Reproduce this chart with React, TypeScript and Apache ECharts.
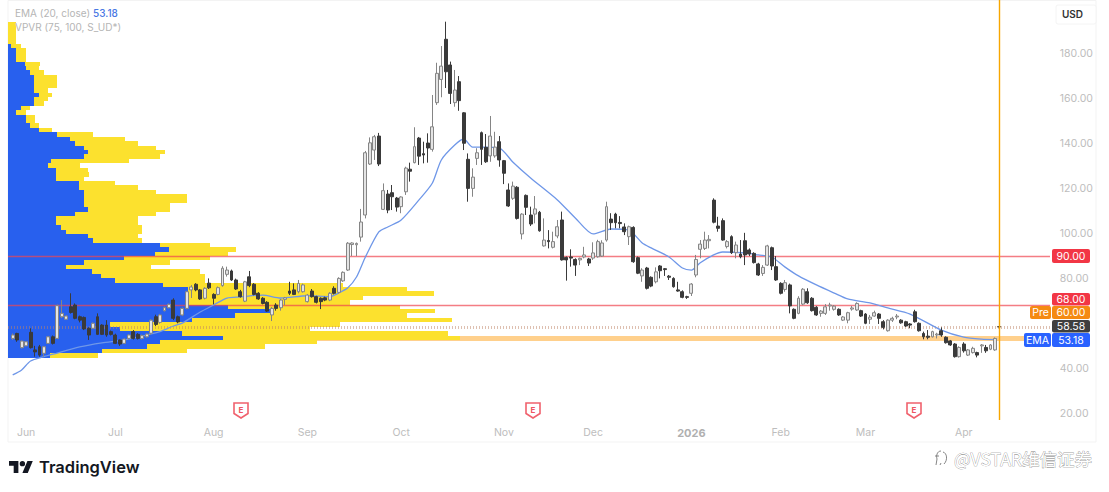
import React, { useEffect, useRef } from "react";
import * as echarts from "echarts";

type Candle = [number, number, number, number]; // open, close, low, high

const lateMay: Candle[] = [[53.5,55,52.8,55.7],[55.7,52.8,52,56],[49.4,52.3,49,52.6]];
const jun: Candle[] = [
  [50.2,52,50,52.3],[56.2,49.4,49,58],[48.4,47.5,45.4,50.2],[49.8,46.1,45.4,50.6],[46.9,49.8,45.4,50.2],
  [51.3,54.2,51,54.6],[54.2,51.3,50.8,54.8],[53.5,68,53.2,68.5],[63.1,64.6,62.5,70.5],[62,63.4,61.8,63.8],
  [67.5,65,64.5,73.5],[68.3,62.4,62,69],[63.1,61.6,60.6,63.6],[62.8,57.7,57.2,63.2],[58,55,52.8,58.4],
  [58,60.2,57.6,60.6],[63.1,55.3,55,64.6],[59.4,55.3,55,59.8],[59.4,55,54.2,61.6],[56.5,55.3,54.8,57],
];
const jul: Candle[] = [
  [55,51.3,51,55.6],[52.8,51,50.2,53],[51.3,53.2,51,53.6],[53.5,55,53,55.4],[56.5,53.5,53,57.2],
  [55.3,53.5,53,55.8],[53.5,54.7,53,55.2],[54.2,55.4,53.8,55.8],[55.8,61.6,55.2,62],[63.1,59.7,59,64],
  [60.6,63.9,60,64.4],[65.8,67.1,65.4,67.6],[67.1,68.6,66.8,69],[70.5,62.4,61.6,71.3],[63.1,60.8,60.2,63.6],
  [63.9,66.8,63.4,67.2],[66.8,74.2,66.4,74.6],[75,76.3,71.4,77.2],[77.5,75,74.4,78],[75,71,70.6,75.4],
  [71.3,75.7,70.8,76.2],[78,75.9,75.4,80.1],
];
const aug: Candle[] = [
  [73,71.3,68.6,73.5],[73,76,72.6,76.5],[76.9,84.6,76.4,85.5],[81.9,83.8,80.9,85.3],[83.4,79.4,79,84],
  [79.4,75.4,75,80],[74.2,72,71.6,75],[70,78.6,69.6,79],[80.8,76.9,76.2,83.4],[77.5,73,72.6,78],
  [73.5,71,70.6,74],[71.3,69,68.6,71.8],[69.5,65.6,65.2,70],[63.9,66.8,61.2,67.4],[68.3,66.8,65.8,69.1],
  [67.1,70.5,65.8,71],[70.8,71.5,68.3,71.9],[74.5,73.5,72.7,78.6],[75,73,72.7,77.9],[74.2,77.9,73.5,79.4],
  [74.2,77.2,73.8,77.8],
];
const sep: Candle[] = [
  [69.8,72.7,69.4,73.2],[74.5,72,71.6,75.4],[72,69.5,69,72.4],[71.3,69.8,66.5,71.7],[71.5,70.5,70,72],
  [70.5,73.5,70,74],[75.7,73.5,73,76.6],[73.9,80.1,73.4,80.6],[79,82.8,78.6,83.2],[83.8,95.7,83.4,96.2],
  [95.1,95.8,90,96.1],[95,95.6,90,96],[98.4,105.1,96.4,110.9],[108.2,135.8,106.7,136.6],[130.8,140.2,130.4,142.6],
  [137,142.9,132.6,143.7],[143.2,130.8,129.9,144.6],[110.7,119,110.4,122.2],[117.5,110.4,109,119.3],[118.1,116.3,110.4,121.5],
  [115.7,111.7,109.7,116.2],
];
const oct: Candle[] = [
  [111.9,116.2,109,116.5],[118.5,129,117.1,129.6],[128.5,127.6,123,131.4],[131.4,138.5,131.1,147.1],[142.3,134.3,130.4,142.8],
  [135.4,134.8,131.1,140.7],[140.1,137.9,131.4,144.4],[137.3,147.3,136.3,161.4],[158,171,157,175.7],[168.3,174.2,160.4,183.1],
  [186.1,171.7,164.5,193.9],[174.7,162.1,157.4,176.2],[158,163.6,156.2,172.5],[167.3,158.9,154.4,169.8],[153.5,140,137,153.8],
  [132.9,120,114.1,135.5],[120,125,116.3,128.9],[133.3,135.8,130.4,137.8],[144.7,137.3,130.4,145.2],[138.2,131.8,131.3,144.1],
  [134.4,143.2,131.8,152.1],[134.4,138.3,133.6,145.1],[140.7,132.6,129.6,143.2],
];
const nov: Candle[] = [
  [132.3,126.7,121.9,132.6],[119.3,112.2,111.8,122.2],[115.6,121,114.9,123],[120.5,106.7,106.2,121],[99.8,108.6,97.4,109],
  [116.9,111.6,108.2,117.3],[108.2,104.2,103.3,111.9],[108.6,110.9,104.5,116.6],[109.4,101.2,100.8,110],[94.5,97.1,94.2,106.7],
  [96.9,96.4,93.4,101.5],[93.9,96.4,93.4,100.8],[98.9,103,97.9,106],[106,88.3,88,109.7],[89.4,88.3,79.1,89.8],
  [89.6,89.1,85.3,93],[88.5,86,81.2,89],[88.3,89,86,89.3],[89.6,90.5,89,94.1],[88.7,86.9,85.6,89.2],
];
const dec: Candle[] = [
  [89.1,91.4,88.3,96.1],[89.7,96.4,89.3,97.2],[90,95.8,89.6,97],[97.1,111.9,96.4,114.1],[106.4,104.8,101.6,109],
  [108.6,104.8,102.3,109.2],[104.9,104.4,102.3,107.7],[102.9,100.8,99.3,104.5],[98.6,103,94.9,103.5],[102.7,87.5,87,103.2],
  [89.3,82.4,82,89.8],[81.2,83.8,78.6,84.6],[84.7,75.7,75.2,85.2],[80.6,76.7,76.2,81],[78.6,83,77.9,85],
  [85.6,83.5,80.1,86],[84.4,84,81.2,84.7],[81.1,80.6,79.4,81.6],[80.1,76.4,76,80.6],[75,74.5,74.2,78.6],
  [74.2,71.7,71.3,74.8],[72,71.7,71,72.4],
];
const jan: Candle[] = [
  [73.5,77.6,72.3,78],[81.6,88.5,80.6,90.5],[93,95.3,89,97.1],[93.4,97.1,92.7,100.8],[96.8,97.4,93.4,99.3],
  [114.8,105,104.5,115.6],[103.3,102.3,100.8,107.4],[105.7,97.1,96.8,106.7],[94.2,96.4,93.4,97.1],[98.6,91.5,90.9,99.2],
  [91.5,94.9,89,96.4],[90.9,89.7,89,97.1],[96.8,90.5,86,100.3],[92.7,90.9,90,93.4],[91.2,87.1,86.7,91.7],
  [86.5,81.6,81.2,87],[82.3,85,81.2,86],[86,94.5,85.6,95],[93.7,85.6,83.8,94.2],[85.3,79.4,79,90],
];
const feb: Candle[] = [
  [77.9,73.5,73,78.4],[75.2,78.2,74.2,79.4],[77.2,67.9,64.6,77.8],[66.4,62.4,62,66.8],[64.6,71.3,64.2,72.2],
  [68.7,75.3,68.2,75.8],[74.2,69.3,68.8,75.7],[71.3,65.8,65.4,71.8],[67.3,63.9,63.5,67.8],[64.6,65.6,63.1,66.1],
  [64.6,67.5,63.9,68.7],[67.9,68.3,65.8,69.3],[66.4,67.8,65.8,68.3],[66.4,63.9,63.5,66.8],[61.6,63,61.2,63.4],
  [61.6,64.9,60.2,65.3],[66.5,67,65.8,67.9],[66.1,69,65.7,69.5],[65.8,63.4,63,66.2],
];
const mar: Candle[] = [
  [64.3,60.2,59.8,64.7],[62,62.9,59.9,63.9],[63.4,64.9,63.1,65.8],[64.3,62.4,59.9,64.7],[60.9,58.4,57.5,61.6],
  [56.9,61.6,56.5,62],[61.6,62.4,60.8,63.1],[63,63.4,62,64.3],[61.6,60.4,60,62],[60.9,59,58.6,61.3],
  [59.9,59.4,58,60.3],[65.3,60.9,60.5,66.2],[60.2,56.9,56.5,60.6],[55.7,54.2,53.1,56.5],[54.5,54,53.1,57.2],
  [54.2,56.5,53.9,56.9],[55,55.4,53.5,56],[56.9,55,54.2,58.4],[54,51.6,51.2,54.4],[52.4,50.6,50.2,52.8],
  [51,45.4,45,51.4],[45.4,49.5,45,50],
];
const apr: Candle[] = [
  [51,48,47.2,51.8],[46.1,48.4,45.7,48.8],[47.2,49.1,46.8,49.8],[47.2,46.1,45.1,47.6],[50.2,50.6,47.1,51],
  [49.5,48,47.1,50.6],[48.7,50.6,48.3,51],[48.4,53.5,48,53.9],[58.7,58.58,56.9,61.2],
];
const candles = [...lateMay, ...jun, ...jul, ...aug, ...sep, ...oct, ...nov, ...dec, ...jan, ...feb, ...mar, ...apr];

const emaIndex = [0,2,4,7,9,15,20,25,30,33,36,38,42,45,48,51,56,60,66,71,73,75,77,79,82,84,87,91,94,96,99,101,103,105,109,112,116,122,126,130,134,138,141,143,147,150,152,154,157,159,164,167,170,173,176,180,184,187,192,196,201,208,213,217,220];
const emaValue = [37.3,39.5,43.5,45.4,46.5,49.7,51.5,52.8,55,56.5,59,60.3,65.2,68.3,71.4,71.9,72.7,71.4,72.4,72,73.6,75.8,80.7,89.6,100.7,102.9,106,114.9,122.4,132.6,139.2,141.9,138.3,138.3,137.9,131.7,124.6,114.9,106.9,99.8,102,101.5,95.8,93.6,89.6,84.7,83.8,87,90.5,91.8,91.4,90.5,89.6,85.1,81.2,77.2,73.6,71,69.2,67,64.3,57.2,54.1,53.2,53];

// volume profile, top row first: up volume (blue), down volume (yellow)
const profileTop = 193.8;
const profileStep = 1.958;
const profileUp = [0,0,0,0,0,3,8,8,8,17,18,22,26,26,26,26,31,26,26,13,8,18,18,22,31,49,62,67,76,80,76,43,40,48,48,48,71,71,76,76,76,76,80,67,48,48,53,58,80,85,152,161,147,116,76,58,84,93,107,155,180,180,179,177,220,262,227,184,102,112,174,215,152,139,94,42];
const profileDown = [8,8,8,8,8,10,10,10,10,15,13,14,23,23,23,14,13,14,10,9,10,9,9,9,13,36,55,63,72,77,76,78,32,32,33,28,36,59,72,103,103,86,82,81,82,82,81,76,50,49,50,67,73,86,86,85,108,104,90,180,219,246,176,165,172,165,172,260,230,190,266,237,157,118,85,48];

const monthIndex = [3,23,45,66,87,110,130,152,172,191,213];
const monthLabels = ["Jun","Jul","Aug","Sep","Oct","Nov","Dec","2026","Feb","Mar","Apr"];
const priceTicks = [20,40,80,100,120,140,160,180];
const resistance = [90, 68];
const lastPrice = 58.58;
const emaLast = 53.4;
const crosshairIndex = 221;

const slotCount = 233;
const categories = Array.from({ length: slotCount }, (_, i) => String(i));

const MUTED = "#bdbdbd";
const FONT = "Inter, Roboto, sans-serif";

echarts.graphic.registerShape("earnBadge", echarts.graphic.extendPath("M1 1 H15 V11.5 L8 16 L1 11.5 Z", {}) as any);
echarts.graphic.registerShape("tvLogo", echarts.graphic.extendPath("M14 22H7V11H0V4h14v18ZM28 22h-8l7.5-18h8L28 22ZM24 8a4 4 0 1 1-8 0a4 4 0 0 1 8 0Z", {}) as any);
echarts.graphic.registerShape("wmIcon", echarts.graphic.extendPath("M7 1 C3 1 2 6 3 9 L2 15 M9 2 C13 3 14 10 10 14 M5 6 H1 M7 13 L6 15", {}) as any);

const tag = (x: number, y: number, w: number, h: number, label: string, fill: string, color = "#fff") => ({
  type: "group",
  x,
  y,
  children: [
    { type: "rect", z: 20, shape: { x: 0, y: 0, width: w, height: h, r: 2 }, style: { fill } },
    { type: "text", z: 21, x: w / 2, y: h / 2, style: { text: label, fill: color, font: `10.5px ${FONT}`, textAlign: "center", textVerticalAlign: "middle" } },
  ],
});

const earnings = (x: number) => ({
  type: "group",
  x,
  y: 402,
  children: [
    { type: "earnBadge", z: 20, style: { fill: "#fff", stroke: "#f0616d", lineWidth: 1.6 } },
    { type: "text", z: 21, x: 8, y: 8, style: { text: "E", fill: "#ee5563", font: `bold 8px ${FONT}`, textAlign: "center", textVerticalAlign: "middle" } },
  ],
});

const App = () => {
  const chartRef = useRef<HTMLDivElement>(null);

  useEffect(() => {
    if (!chartRef.current) return;
    const chart = echarts.init(chartRef.current, null, { renderer: "svg" });

    const profileRows = profileUp.map((up, i) => [
      profileTop - i * profileStep,
      profileTop - (i + 1) * profileStep,
      up,
      up + profileDown[i],
    ]);

    chart.setOption({
      animation: false,
      backgroundColor: "#fff",
      grid: [
        { left: 10.47, top: 0, width: 1040.3, height: 420, containLabel: false },
        { left: 8, top: 0, width: 1042, height: 420, containLabel: false },
      ],
      xAxis: [
        {
          type: "category",
          gridIndex: 0,
          data: categories,
          axisLine: { show: false },
          axisTick: { show: false },
          splitLine: { show: false },
          axisLabel: {
            margin: 7,
            interval: (i: number) => monthIndex.includes(i),
            formatter: (_: string, i: number) => {
              const label = monthLabels[monthIndex.indexOf(i)] ?? "";
              return label === "2026" ? `{b|${label}}` : label;
            },
            color: MUTED,
            fontSize: 10.5,
            fontFamily: FONT,
            rich: { b: { color: "#b0b0b0", fontSize: 11, fontWeight: "bold", fontFamily: FONT } },
          },
        },
        { type: "value", gridIndex: 1, min: 0, max: 1042, show: false },
      ],
      yAxis: [
        {
          type: "value",
          gridIndex: 0,
          position: "right",
          min: 17.33,
          max: 203.51,
          axisLine: { show: false },
          axisTick: { show: false },
          splitLine: { show: false },
          axisLabel: {
            customValues: priceTicks,
            formatter: (v: number) => v.toFixed(2),
            margin: 9,
            color: MUTED,
            fontSize: 10.5,
            fontFamily: FONT,
          },
        },
        { type: "value", gridIndex: 1, min: 17.33, max: 203.51, show: false },
      ],
      series: [
        {
          type: "line",
          xAxisIndex: 1,
          yAxisIndex: 1,
          data: [],
          z: 1,
          silent: true,
          markLine: {
            z: 1,
            silent: true,
            symbol: "none",
            label: { show: false },
            lineStyle: { color: "#ffd08c", width: 5, type: "solid" },
            data: [{ yAxis: emaLast }],
          },
        },
        {
          type: "custom",
          xAxisIndex: 1,
          yAxisIndex: 1,
          z: 2,
          silent: true,
          data: profileRows,
          encode: { x: [2, 3], y: [0, 1] },
          renderItem: (_: any, api: any) => {
            const [x0, yTop] = api.coord([0, api.value(0)]);
            const [x1, yBottom] = api.coord([api.value(2), api.value(1)]);
            const [x2] = api.coord([api.value(3), api.value(1)]);
            const y0 = Math.round(yTop);
            const h = Math.round(yBottom) - y0;
            return {
              type: "group",
              children: [
                { type: "rect", shape: { x: x0, y: y0, width: x2 - x0, height: h }, style: { fill: "#fce12e" } },
                { type: "rect", shape: { x: x0, y: y0, width: x1 - x0, height: h }, style: { fill: "#2860ee" } },
              ],
            };
          },
        },
        {
          type: "line",
          xAxisIndex: 1,
          yAxisIndex: 1,
          data: [],
          z: 3,
          silent: true,
          markLine: {
            z: 3,
            silent: true,
            symbol: "none",
            label: { show: false },
            data: [
              ...resistance.map((yAxis) => ({ yAxis, lineStyle: { color: "rgba(240,70,80,0.7)", width: 1.3, type: "solid" } })),
              { yAxis: lastPrice, lineStyle: { color: "rgba(190,130,100,0.5)", width: 3, type: [1, 2] } },
            ],
          },
        },
        {
          type: "line",
          xAxisIndex: 0,
          yAxisIndex: 0,
          data: emaIndex.map((i, k) => [i, emaValue[k]]),
          smooth: 0.25,
          showSymbol: false,
          z: 4,
          silent: true,
          lineStyle: { color: "#6f97e8", width: 1.3 },
        },
        {
          type: "candlestick",
          xAxisIndex: 0,
          yAxisIndex: 0,
          data: candles,
          barWidth: 3.4,
          z: 5,
          silent: true,
          itemStyle: {
            color: "#e4e4e4",
            color0: "#3a3a3a",
            borderColor: "#858585",
            borderColor0: "#3a3a3a",
            borderWidth: 1,
          },
          markLine: {
            z: 6,
            silent: true,
            symbol: "none",
            label: { show: false },
            lineStyle: { color: "#f7a600", width: 1.4, type: "solid" },
            data: [{ xAxis: crosshairIndex }],
          },
        },
      ],
      graphic: [
        { type: "rect", z: 0, shape: { x: 8, y: 0.5, width: 1088, height: 441.5 }, style: { fill: "none", stroke: "#f3f3f3", lineWidth: 1 } },
        { type: "rect", z: 0, shape: { x: 1056, y: 5, width: 40, height: 19, r: 2 }, style: { fill: "#fff", stroke: "#f4f4f4" } },
        { type: "text", z: 20, x: 1062, y: 14, style: { text: "USD", fill: "#333", font: `600 10px ${FONT}`, textVerticalAlign: "middle" } },
        { type: "text", z: 20, x: 15, y: 13, style: { text: "EMA (20, close)", fill: "#b5b5b5", font: `10px ${FONT}`, textVerticalAlign: "middle" } },
        { type: "text", z: 20, x: 93, y: 13, style: { text: "53.18", fill: "#4a78e4", font: `500 10px ${FONT}`, textVerticalAlign: "middle" } },
        { type: "text", z: 20, x: 15, y: 27, style: { text: "VPVR (75, 100, S_UD*)", fill: "#b5b5b5", font: `10px ${FONT}`, textVerticalAlign: "middle" } },
        tag(1052, 249, 38, 14, "90.00", "#f23645"),
        tag(1052, 293, 38, 12.5, "68.00", "#f23645"),
        tag(1030, 306, 21, 13, "Pre", "#f58a12"),
        tag(1052, 306, 38, 13, "60.00", "#f58a12"),
        tag(1052, 320, 38, 12.5, "58.58", "#3f3f3f"),
        tag(1024, 333, 27, 14, "EMA", "#2962ff"),
        tag(1052, 333, 38, 14, "53.18", "#2962ff"),
        earnings(233),
        earnings(525),
        earnings(906),
        { type: "tvLogo", z: 20, x: 9, y: 458.3, scaleX: 0.67, scaleY: 0.67, style: { fill: "#131722" } },
        { type: "text", z: 20, x: 39, y: 467, style: { text: "TradingView", fill: "#131722", font: `600 16.5px ${FONT}`, textVerticalAlign: "middle" } },
        { type: "wmIcon", z: 20, x: 934, y: 450, style: { fill: "none", stroke: "#666", lineWidth: 0.8 } },
        { type: "text", z: 20, x: 954, y: 458, style: { text: "@VSTAR维信证券", fill: "#fff", stroke: "#777", lineWidth: 0.6, font: '17.5px "Noto Sans CJK SC"', textVerticalAlign: "middle" } },
      ],
    });

    return () => {
      chart.dispose();
    };
  }, []);

  return <div ref={chartRef} style={{ position: "fixed", left: 0, top: 0, width: 1109, height: 492 }}></div>;
};

export default App;
